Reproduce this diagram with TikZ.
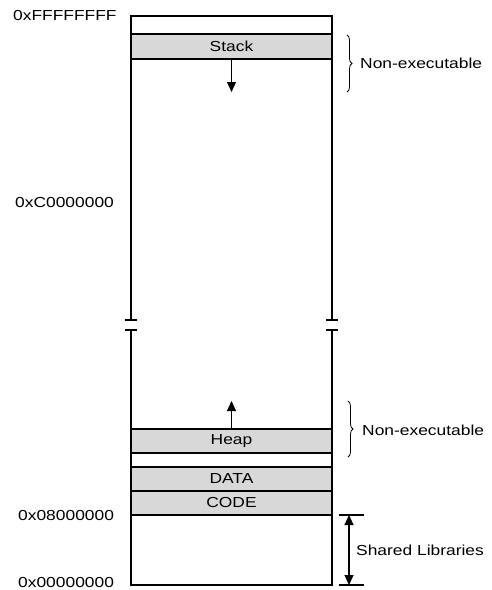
\documentclass[tikz,border=0pt]{standalone}
\usepackage{fontspec}
\setmainfont{Liberation Sans}
\usetikzlibrary{arrows.meta,decorations.pathreplacing}
\definecolor{bandgray}{RGB}{216,216,216}
\newcommand{\wtxt}[1]{\scalebox{1.2}[1]{#1}}
\tikzset{
  band/.style={draw=black, line width=1.1pt, fill=bandgray, minimum width=201pt, minimum height=24pt, inner sep=0pt, font=\fontsize{14.5}{16}\selectfont},
  lbl/.style={anchor=west, inner sep=0pt, font=\fontsize{14.5}{16}\selectfont},
  wall/.style={line width=1.1pt},
  arr/.style={line width=1.1pt, -{Triangle[width=9pt,length=10pt]}},
  darr/.style={line width=1.1pt, {Triangle[width=9pt,length=10pt]}-{Triangle[width=9pt,length=10pt]}},
  brc/.style={line width=0.8pt, decorate, decoration={brace, amplitude=5pt}}
}
\begin{document}
\begin{tikzpicture}[x=1pt, y=-1pt]
\useasboundingbox (0,0) rectangle (492,590);
% outer walls
\coordinate (tl) at (131,16);
\coordinate (tr) at (332,16);
\coordinate (bl) at (131,585);
\coordinate (br) at (332,585);
\coordinate (lu) at (131,320);
\coordinate (ll) at (131,330);
\coordinate (ru) at (332,320);
\coordinate (rl) at (332,330);
\draw[wall] (lu) -- (tl) -- (tr) -- (ru);
\draw[wall] (ll) -- (bl) -- (br) -- (rl);
\draw[wall] ([xshift=-6pt]lu) -- ([xshift=6pt]lu);
\draw[wall] ([xshift=-6pt]ll) -- ([xshift=6pt]ll);
\draw[wall] ([xshift=-6pt]ru) -- ([xshift=6pt]ru);
\draw[wall] ([xshift=-6pt]rl) -- ([xshift=6pt]rl);
% bands
\node[band, minimum height=25pt] (stack) at (231.5,46.5) {\wtxt{Stack}};
\node[band] (heap) at (231.5,441) {\wtxt{Heap}};
\node[band] (data) at (231.5,479) {\wtxt{DATA}};
\node[band] (code) at (231.5,503) {\wtxt{CODE}};
% growth arrows
\coordinate (stackend) at (231.5,92);
\coordinate (heapend) at (231.5,401);
\draw[arr] (stack.south) -- (stackend);
\draw[arr] (heap.north) -- (heapend);
% address labels
\node[lbl] (aF) at (13,16) {\wtxt{0xFFFFFFFF}};
\node[lbl] (aC) at (15,203) {\wtxt{0xC0000000}};
\node[lbl] (a8) at (18,516) {\wtxt{0x08000000}};
\node[lbl] (a0) at (18,583) {\wtxt{0x00000000}};
% braces
\coordinate (b1t) at (347,35);
\coordinate (b1b) at (347,92);
\draw[brc] (b1t) -- (b1b);
\node[lbl] (ne1) at (360,63) {\wtxt{Non-executable}};
\coordinate (b2t) at (348,401);
\coordinate (b2b) at (348,457);
\draw[brc] (b2t) -- (b2b);
\node[lbl] (ne2) at (362,430) {\wtxt{Non-executable}};
% shared libraries
\coordinate (s1l) at (339,515);
\coordinate (s1r) at (364,515);
\coordinate (s2l) at (339,585);
\coordinate (s2r) at (364,585);
\draw[wall] (s1l) -- (s1r);
\draw[wall] (s2l) -- (s2r);
\coordinate (sa) at (349,515);
\coordinate (sb) at (349,585);
\draw[darr] (sa) -- (sb);
\node[lbl] (sl) at (356,550) {\wtxt{Shared Libraries}};
\end{tikzpicture}
\end{document}
